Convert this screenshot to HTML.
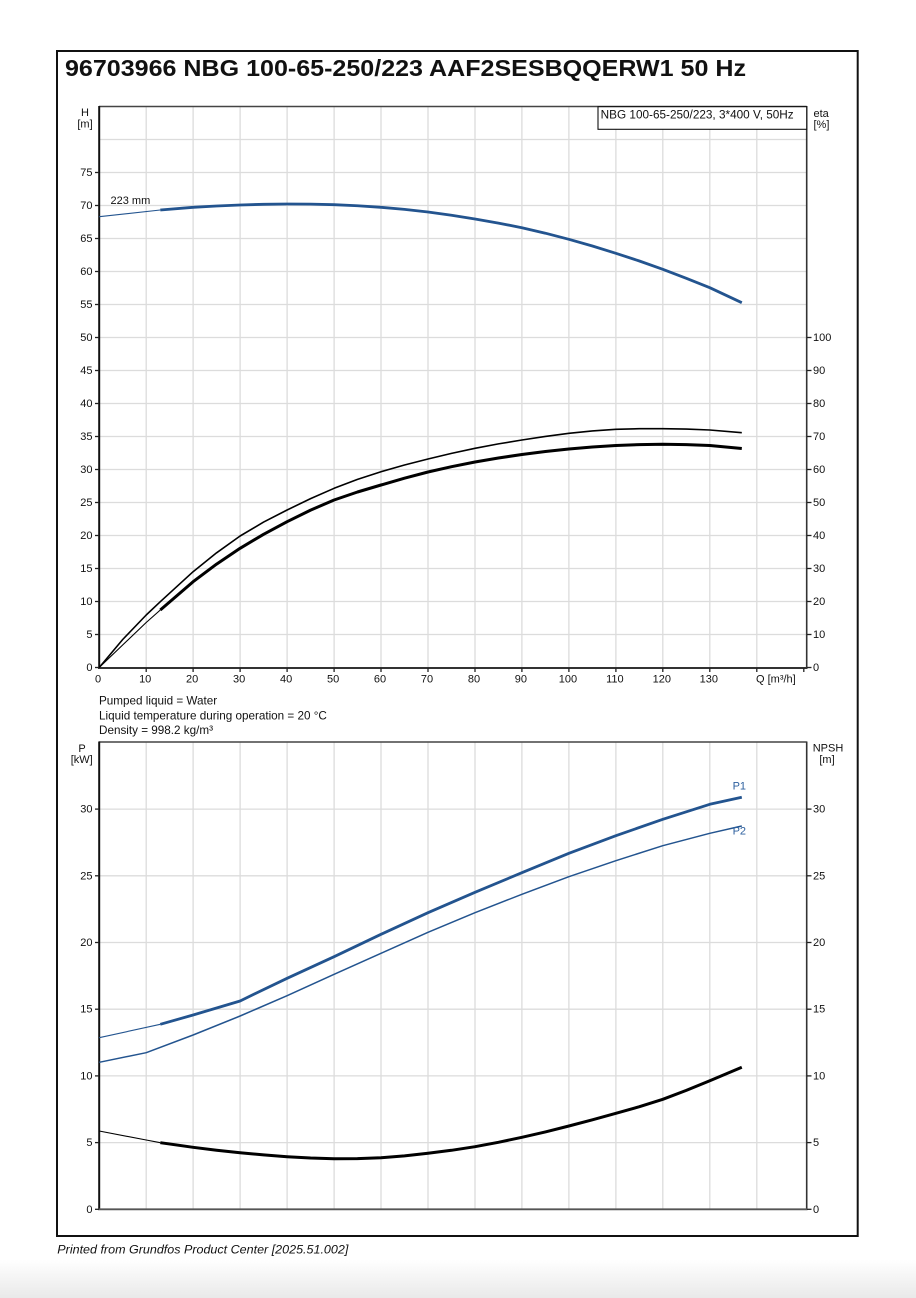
<!DOCTYPE html>
<html><head><meta charset="utf-8"><style>
html,body{margin:0;padding:0;background:#fff;}
svg{display:block;}
text{font-family:"Liberation Sans",Arial,sans-serif;fill:#111;}
</style></head><body>
<svg width="916" height="1298" viewBox="0 0 916 1298" xmlns="http://www.w3.org/2000/svg">
<defs><linearGradient id="bg" x1="0" y1="0" x2="0" y2="1"><stop offset="0" stop-color="#ffffff"/><stop offset="1" stop-color="#e9e9e9"/></linearGradient></defs>
<rect x="0" y="0" width="916" height="1298" fill="#fff"/>
<rect x="0" y="1260" width="916" height="38" fill="url(#bg)"/>
<rect x="57" y="51" width="800.7" height="1185" fill="#fff" stroke="#111" stroke-width="2"/>
<text x="65" y="76" font-size="23" font-weight="bold" textLength="681" lengthAdjust="spacingAndGlyphs">96703966 NBG 100-65-250/223 AAF2SESBQQERW1 50 Hz</text>

<!-- TOP CHART GRID -->
<g stroke="#dcdcdc" stroke-width="1.3">
<line x1="146.2" y1="106.5" x2="146.2" y2="667.5"/><line x1="193.1" y1="106.5" x2="193.1" y2="667.5"/><line x1="240.1" y1="106.5" x2="240.1" y2="667.5"/><line x1="287.1" y1="106.5" x2="287.1" y2="667.5"/><line x1="334.1" y1="106.5" x2="334.1" y2="667.5"/><line x1="381" y1="106.5" x2="381" y2="667.5"/><line x1="428" y1="106.5" x2="428" y2="667.5"/><line x1="475" y1="106.5" x2="475" y2="667.5"/><line x1="521.9" y1="106.5" x2="521.9" y2="667.5"/><line x1="568.9" y1="106.5" x2="568.9" y2="667.5"/><line x1="615.9" y1="106.5" x2="615.9" y2="667.5"/><line x1="662.8" y1="106.5" x2="662.8" y2="667.5"/><line x1="709.8" y1="106.5" x2="709.8" y2="667.5"/><line x1="756.8" y1="106.5" x2="756.8" y2="667.5"/>
<line x1="99" y1="634.5" x2="806.7" y2="634.5"/><line x1="99" y1="601.5" x2="806.7" y2="601.5"/><line x1="99" y1="568.5" x2="806.7" y2="568.5"/><line x1="99" y1="535.5" x2="806.7" y2="535.5"/><line x1="99" y1="502.5" x2="806.7" y2="502.5"/><line x1="99" y1="469.5" x2="806.7" y2="469.5"/><line x1="99" y1="436.5" x2="806.7" y2="436.5"/><line x1="99" y1="403.5" x2="806.7" y2="403.5"/><line x1="99" y1="370.5" x2="806.7" y2="370.5"/><line x1="99" y1="337.5" x2="806.7" y2="337.5"/><line x1="99" y1="304.5" x2="806.7" y2="304.5"/><line x1="99" y1="271.5" x2="806.7" y2="271.5"/><line x1="99" y1="238.5" x2="806.7" y2="238.5"/><line x1="99" y1="205.5" x2="806.7" y2="205.5"/><line x1="99" y1="172.5" x2="806.7" y2="172.5"/><line x1="99" y1="139.5" x2="806.7" y2="139.5"/>
</g>
<!-- top chart axes -->
<line x1="99" y1="106.5" x2="806.7" y2="106.5" stroke="#444" stroke-width="1.6"/>
<line x1="806.7" y1="106" x2="806.7" y2="668.5" stroke="#333" stroke-width="1.6"/>
<line x1="99.2" y1="106" x2="99.2" y2="669" stroke="#111" stroke-width="2"/>
<line x1="98" y1="668" x2="807.5" y2="668" stroke="#333" stroke-width="2"/>
<g stroke="#222" stroke-width="1.3">
<line x1="95" y1="667.5" x2="99" y2="667.5"/><line x1="95" y1="634.5" x2="99" y2="634.5"/><line x1="95" y1="601.5" x2="99" y2="601.5"/><line x1="95" y1="568.5" x2="99" y2="568.5"/><line x1="95" y1="535.5" x2="99" y2="535.5"/><line x1="95" y1="502.5" x2="99" y2="502.5"/><line x1="95" y1="469.5" x2="99" y2="469.5"/><line x1="95" y1="436.5" x2="99" y2="436.5"/><line x1="95" y1="403.5" x2="99" y2="403.5"/><line x1="95" y1="370.5" x2="99" y2="370.5"/><line x1="95" y1="337.5" x2="99" y2="337.5"/><line x1="95" y1="304.5" x2="99" y2="304.5"/><line x1="95" y1="271.5" x2="99" y2="271.5"/><line x1="95" y1="238.5" x2="99" y2="238.5"/><line x1="95" y1="205.5" x2="99" y2="205.5"/><line x1="95" y1="172.5" x2="99" y2="172.5"/>
<line x1="807" y1="667.5" x2="811.5" y2="667.5"/><line x1="807" y1="634.5" x2="811.5" y2="634.5"/><line x1="807" y1="601.5" x2="811.5" y2="601.5"/><line x1="807" y1="568.5" x2="811.5" y2="568.5"/><line x1="807" y1="535.5" x2="811.5" y2="535.5"/><line x1="807" y1="502.5" x2="811.5" y2="502.5"/><line x1="807" y1="469.5" x2="811.5" y2="469.5"/><line x1="807" y1="436.5" x2="811.5" y2="436.5"/><line x1="807" y1="403.5" x2="811.5" y2="403.5"/><line x1="807" y1="370.5" x2="811.5" y2="370.5"/><line x1="807" y1="337.5" x2="811.5" y2="337.5"/>
<line x1="146.2" y1="668" x2="146.2" y2="672"/><line x1="193.1" y1="668" x2="193.1" y2="672"/><line x1="240.1" y1="668" x2="240.1" y2="672"/><line x1="287.1" y1="668" x2="287.1" y2="672"/><line x1="334.1" y1="668" x2="334.1" y2="672"/><line x1="381" y1="668" x2="381" y2="672"/><line x1="428" y1="668" x2="428" y2="672"/><line x1="475" y1="668" x2="475" y2="672"/><line x1="521.9" y1="668" x2="521.9" y2="672"/><line x1="568.9" y1="668" x2="568.9" y2="672"/><line x1="615.9" y1="668" x2="615.9" y2="672"/><line x1="662.8" y1="668" x2="662.8" y2="672"/><line x1="709.8" y1="668" x2="709.8" y2="672"/><line x1="756.8" y1="668" x2="756.8" y2="672"/><line x1="803.8" y1="668" x2="803.8" y2="672"/>
</g>
<g font-size="11" text-anchor="end">
<text x="92.5" y="671">0</text><text x="92.5" y="638">5</text><text x="92.5" y="605">10</text><text x="92.5" y="572">15</text><text x="92.5" y="539">20</text><text x="92.5" y="506">25</text><text x="92.5" y="473">30</text><text x="92.5" y="440">35</text><text x="92.5" y="407">40</text><text x="92.5" y="374">45</text><text x="92.5" y="341">50</text><text x="92.5" y="308">55</text><text x="92.5" y="275">60</text><text x="92.5" y="242">65</text><text x="92.5" y="209">70</text><text x="92.5" y="176">75</text>
</g>
<g font-size="11">
<text x="813" y="671">0</text><text x="813" y="638">10</text><text x="813" y="605">20</text><text x="813" y="572">30</text><text x="813" y="539">40</text><text x="813" y="506">50</text><text x="813" y="473">60</text><text x="813" y="440">70</text><text x="813" y="407">80</text><text x="813" y="374">90</text><text x="813" y="341">100</text>
</g>
<g font-size="11" text-anchor="middle">
<text x="98" y="682.5">0</text><text x="145.2" y="682.5">10</text><text x="192.1" y="682.5">20</text><text x="239.1" y="682.5">30</text><text x="286.1" y="682.5">40</text><text x="333.1" y="682.5">50</text><text x="380" y="682.5">60</text><text x="427" y="682.5">70</text><text x="474" y="682.5">80</text><text x="520.9" y="682.5">90</text><text x="567.9" y="682.5">100</text><text x="614.9" y="682.5">110</text><text x="661.8" y="682.5">120</text><text x="708.8" y="682.5">130</text>
</g>
<text x="756" y="682.5" font-size="11">Q [m³/h]</text>
<text x="85" y="116" font-size="11" text-anchor="middle">H</text>
<text x="85" y="127.5" font-size="11" text-anchor="middle">[m]</text>
<text x="813.5" y="117" font-size="11">eta</text>
<text x="813.5" y="128" font-size="11">[%]</text>
<rect x="598" y="106.7" width="208.7" height="22.6" fill="#fff" stroke="#111" stroke-width="1.1"/>
<text x="600.7" y="118.5" font-size="11.5" textLength="193" lengthAdjust="spacingAndGlyphs">NBG 100-65-250/223, 3*400 V, 50Hz</text>

<!-- top curves -->
<g fill="none" stroke-linejoin="round" stroke-linecap="butt">
<polyline stroke="#23548f" stroke-width="1.1" points="99.2,216.7 160.3,210"/>
<polyline stroke="#23548f" stroke-width="2.8" points="160.3,210 193.1,207.3 216.6,206 240.1,205 263.6,204.3 287.1,204 310.6,204.1 334.1,204.7 357.5,205.75 381,207.3 404.5,209.4 428,212 451.5,215.25 475,219 498.4,223.1 521.9,227.7 545.4,233.2 568.9,239.3 592.4,246 615.9,253.3 639.4,261 662.8,269.3 686.3,278.3 709.8,287.7 741.8,302.7"/>
<polyline stroke="#000" stroke-width="1.6" points="99.2,667.5 122.7,639.5 146.2,615 160.3,601.7 193.1,571.7 216.6,552.8 240.1,536 263.6,522.1 287.1,510 310.6,498.6 334.1,488.3 357.5,479.4 381,471.7 404.5,465 428,459 451.5,453.4 475,448.3 498.4,443.9 521.9,440 545.4,436.4 568.9,433.3 592.4,430.9 615.9,429.3 639.4,428.7 662.8,428.7 686.3,429.1 709.8,430 741.8,432.7"/>
<polyline stroke="#000" stroke-width="1.1" points="99.2,667.5 146.2,622.5 160.3,610"/>
<polyline stroke="#000" stroke-width="3" points="160.3,610 193.1,581.7 216.6,564.1 240.1,548.3 263.6,534.3 287.1,521.7 310.6,510.1 334.1,500 357.5,492 381,485 404.5,478.2 428,472 451.5,466.7 475,462 498.4,458 521.9,454.5 545.4,451.5 568.9,449 592.4,447 615.9,445.5 639.4,444.6 662.8,444.3 686.3,444.6 709.8,445.5 741.8,448.5"/>
</g>
<text x="110.5" y="204" font-size="11">223 mm</text>

<!-- liquid info -->
<text x="99" y="704.3" font-size="11.7">Pumped liquid = Water</text>
<text x="99" y="719.3" font-size="11.7">Liquid temperature during operation = 20 °C</text>
<text x="99" y="734" font-size="11.7">Density = 998.2 kg/m³</text>

<!-- BOTTOM CHART GRID -->
<g stroke="#dcdcdc" stroke-width="1.3">
<line x1="146.2" y1="742" x2="146.2" y2="1209"/><line x1="193.1" y1="742" x2="193.1" y2="1209"/><line x1="240.1" y1="742" x2="240.1" y2="1209"/><line x1="287.1" y1="742" x2="287.1" y2="1209"/><line x1="334.1" y1="742" x2="334.1" y2="1209"/><line x1="381" y1="742" x2="381" y2="1209"/><line x1="428" y1="742" x2="428" y2="1209"/><line x1="475" y1="742" x2="475" y2="1209"/><line x1="521.9" y1="742" x2="521.9" y2="1209"/><line x1="568.9" y1="742" x2="568.9" y2="1209"/><line x1="615.9" y1="742" x2="615.9" y2="1209"/><line x1="662.8" y1="742" x2="662.8" y2="1209"/><line x1="709.8" y1="742" x2="709.8" y2="1209"/><line x1="756.8" y1="742" x2="756.8" y2="1209"/>
<line x1="99" y1="1142.6" x2="806.7" y2="1142.6"/><line x1="99" y1="1075.9" x2="806.7" y2="1075.9"/><line x1="99" y1="1009.2" x2="806.7" y2="1009.2"/><line x1="99" y1="942.5" x2="806.7" y2="942.5"/><line x1="99" y1="875.8" x2="806.7" y2="875.8"/><line x1="99" y1="809.1" x2="806.7" y2="809.1"/>
</g>
<line x1="99" y1="742" x2="806.7" y2="742" stroke="#444" stroke-width="1.6"/>
<line x1="806.7" y1="741.5" x2="806.7" y2="1210" stroke="#333" stroke-width="1.6"/>
<line x1="99.2" y1="741.5" x2="99.2" y2="1210" stroke="#111" stroke-width="2"/>
<line x1="98" y1="1209.3" x2="807.5" y2="1209.3" stroke="#555" stroke-width="1.8"/>
<g stroke="#222" stroke-width="1.3">
<line x1="95" y1="1209.3" x2="99" y2="1209.3"/><line x1="95" y1="1142.6" x2="99" y2="1142.6"/><line x1="95" y1="1075.9" x2="99" y2="1075.9"/><line x1="95" y1="1009.2" x2="99" y2="1009.2"/><line x1="95" y1="942.5" x2="99" y2="942.5"/><line x1="95" y1="875.8" x2="99" y2="875.8"/><line x1="95" y1="809.1" x2="99" y2="809.1"/>
<line x1="807" y1="1209.3" x2="811.5" y2="1209.3"/><line x1="807" y1="1142.6" x2="811.5" y2="1142.6"/><line x1="807" y1="1075.9" x2="811.5" y2="1075.9"/><line x1="807" y1="1009.2" x2="811.5" y2="1009.2"/><line x1="807" y1="942.5" x2="811.5" y2="942.5"/><line x1="807" y1="875.8" x2="811.5" y2="875.8"/><line x1="807" y1="809.1" x2="811.5" y2="809.1"/>
</g>
<g font-size="11" text-anchor="end">
<text x="92.5" y="1212.8">0</text><text x="92.5" y="1146.1">5</text><text x="92.5" y="1079.4">10</text><text x="92.5" y="1012.7">15</text><text x="92.5" y="946">20</text><text x="92.5" y="879.3">25</text><text x="92.5" y="812.6">30</text>
</g>
<g font-size="11">
<text x="813" y="1212.8">0</text><text x="813" y="1146.1">5</text><text x="813" y="1079.4">10</text><text x="813" y="1012.7">15</text><text x="813" y="946">20</text><text x="813" y="879.3">25</text><text x="813" y="812.6">30</text>
</g>
<text x="82" y="752" font-size="11" text-anchor="middle">P</text>
<text x="81.7" y="763" font-size="11" text-anchor="middle">[kW]</text>
<text x="828" y="751.5" font-size="11" text-anchor="middle">NPSH</text>
<text x="827" y="763" font-size="11" text-anchor="middle">[m]</text>

<!-- bottom curves -->
<g fill="none" stroke-linejoin="round" stroke-linecap="butt">
<polyline stroke="#23548f" stroke-width="1.1" points="99.2,1037.7 160.3,1024.3"/>
<polyline stroke="#23548f" stroke-width="2.8" points="160.3,1024.3 193.1,1015 240.1,1001 257,992.7 287.1,978.3 334.1,956.7 381,934.3 428,912.7 475,892.3 521.9,872.7 568.9,853.3 615.9,835.7 662.8,819.3 709.8,804.3 741.8,797.3"/>
<polyline stroke="#23548f" stroke-width="1.5" points="99.2,1062.3 146.2,1052.7 193.1,1035 240.1,1016 287.1,995.7 334.1,974.3 381,953.3 428,932.3 475,912.7 521.9,894.3 568.9,876.7 615.9,860.7 662.8,845.7 709.8,833.3 741.8,826"/>
<polyline stroke="#000" stroke-width="1.1" points="99.2,1131 146.2,1140 160.3,1142.7"/>
<polyline stroke="#000" stroke-width="3" points="160.3,1142.7 193.1,1147.3 216.6,1150.2 240.1,1152.7 263.6,1154.9 287.1,1156.7 310.6,1158 334.1,1158.7 357.5,1158.6 381,1157.7 404.5,1155.85 428,1153.3 451.5,1150.3 475,1146.7 498.4,1142.3 521.9,1137.3 545.4,1131.9 568.9,1126 592.4,1119.8 615.9,1113.3 639.4,1106.7 662.8,1099.3 686.3,1090.4 709.8,1080.7 741.8,1067.3"/>
</g>
<text x="732.6" y="789.5" font-size="11" style="fill:#2c5f9e">P1</text>
<text x="732.6" y="834.5" font-size="11" style="fill:#2c5f9e">P2</text>

<text x="57.3" y="1253.5" font-size="12" font-style="italic" textLength="291" lengthAdjust="spacingAndGlyphs">Printed from Grundfos Product Center [2025.51.002]</text>
</svg>
</body></html>
